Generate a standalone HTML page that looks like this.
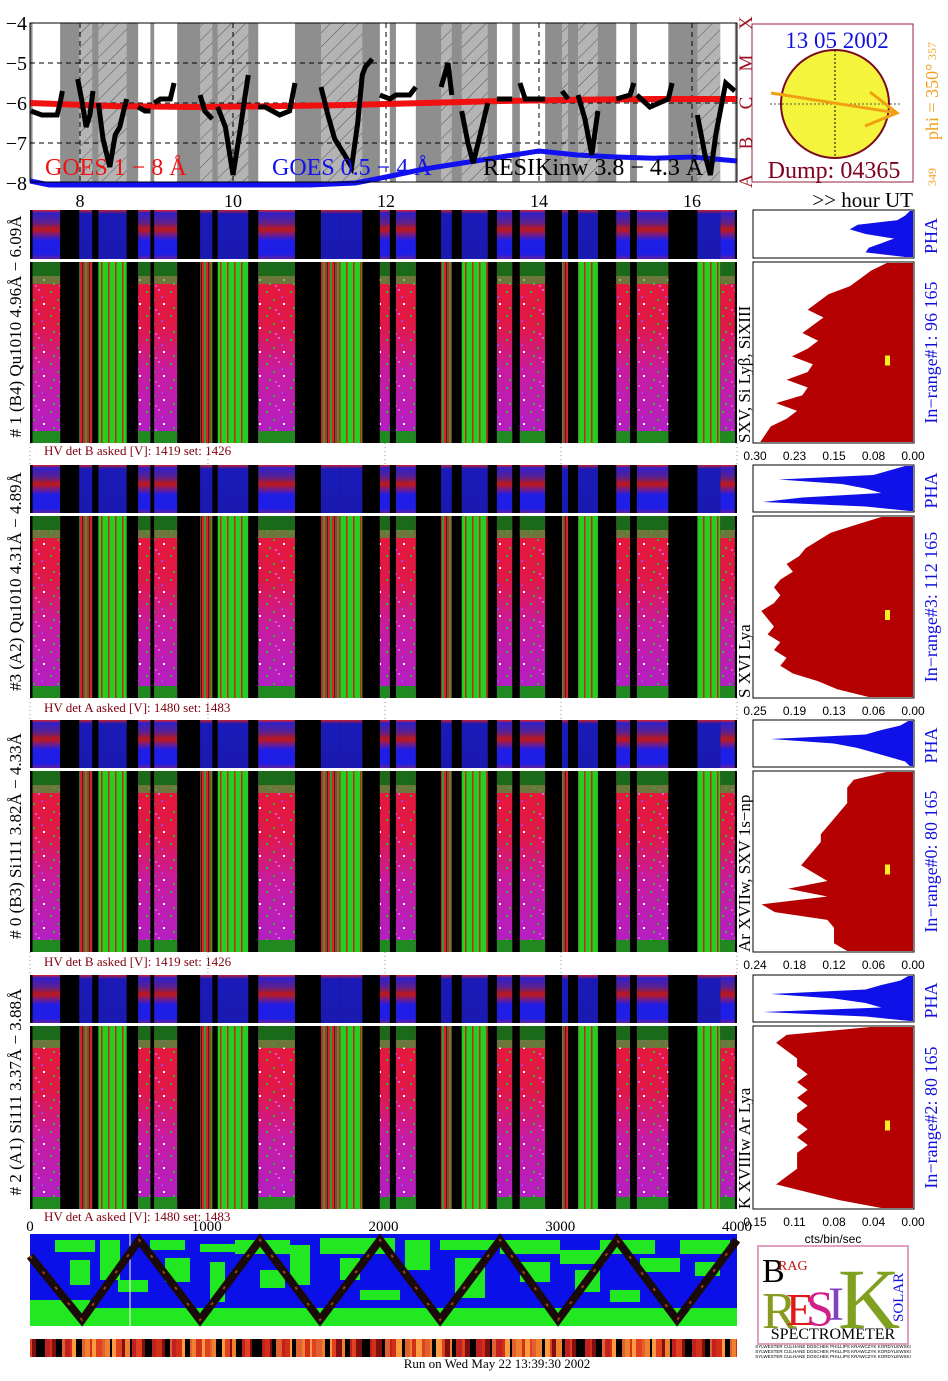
<!DOCTYPE html>
<html><head><meta charset="utf-8">
<style>
html,body{margin:0;padding:0;background:#fff;}
svg{display:block;font-family:"Liberation Serif",serif;}
</style></head>
<body>
<svg id="chart" width="948" height="1381" viewBox="0 0 948 1381" xmlns="http://www.w3.org/2000/svg">
<defs>
<pattern id="hatch" patternUnits="userSpaceOnUse" width="10" height="10" patternTransform="rotate(45)">
<rect width="10" height="10" fill="#b4b4b4"/><line x1="0" y1="0" x2="0" y2="10" stroke="#555" stroke-width="1"/>
</pattern>
<linearGradient id="qgrad" x1="0" y1="0" x2="0" y2="1">
<stop offset="0" stop-color="#e81838"/><stop offset="0.35" stop-color="#e01848"/><stop offset="0.6" stop-color="#c81ca0"/><stop offset="1" stop-color="#b020c8"/>
</linearGradient>
<linearGradient id="phagrad" x1="0" y1="0" x2="0" y2="1">
<stop offset="0" stop-color="#e02020"/><stop offset="0.06" stop-color="#3020c8"/><stop offset="0.25" stop-color="#5a2090"/><stop offset="0.4" stop-color="#c01818"/><stop offset="0.5" stop-color="#7a1c80"/><stop offset="0.62" stop-color="#1e1ee6"/><stop offset="0.9" stop-color="#1e1ee6"/><stop offset="1" stop-color="#6020a0"/>
</linearGradient>
<linearGradient id="phagradA" x1="0" y1="0" x2="0" y2="1">
<stop offset="0" stop-color="#c02030"/><stop offset="0.08" stop-color="#1a1ab8"/><stop offset="1" stop-color="#1a1ab0"/>
</linearGradient>
<pattern id="speck" patternUnits="userSpaceOnUse" width="24" height="24">
<rect x="2" y="3" width="2" height="2" fill="#30c030"/><rect x="14" y="1" width="2" height="2" fill="#e060e0"/><rect x="9" y="11" width="2" height="2" fill="#28b028"/><rect x="19" y="15" width="2" height="2" fill="#fff"/><rect x="5" y="19" width="2" height="2" fill="#30c030"/><rect x="17" y="8" width="2" height="2" fill="#a040f0"/><rect x="11" y="21" width="2" height="2" fill="#e050e0"/>
</pattern>
<pattern id="aline" patternUnits="userSpaceOnUse" width="7" height="10">
<rect width="7" height="10" fill="#22d022"/><rect x="3" width="1.5" height="10" fill="#d02020"/>
</pattern>
<pattern id="mline" patternUnits="userSpaceOnUse" width="7" height="10">
<rect width="7" height="10" fill="#d82030"/><rect x="1" width="2" height="10" fill="#2aa02a"/><rect x="5" width="1" height="10" fill="#104010"/>
</pattern>
</defs>
<g id="goes"></g>
<g id="sun"></g>
<g id="blocks"></g>
<g id="bottom"></g>
</svg>
<script>
// ---------- data ----------
const segStart=[7.38,7.99,8.24,8.76,8.97,9.57,9.80,10.33,11.15,11.40,11.92,12.13,12.72,12.99,13.45,13.75,14.30,14.51,15.01,15.28,16.07,16.37];
const segEnd  =[7.74,8.16,8.61,8.92,9.27,9.73,10.20,10.81,11.40,11.69,12.05,12.39,12.86,13.33,13.65,14.08,14.38,14.77,15.19,15.69,16.37,16.56];
const segType =['q','m','a','q','q','m','a','q','m','a','q','q','m','a','q','q','m','a','q','q','a','q'];
const hourTicks=[8,10,12,14,16];
const goesYTicks=[-4,-5,-6,-7,-8];
const goesLongH=[7.35,8.5,9.5,10.5,11.5,12.5,13.5,14.5,15.5,16.59];
const goesLongV=[-6.0,-6.08,-6.1,-6.08,-6.05,-6.0,-5.95,-5.92,-5.9,-5.9];
const goesShortH=[7.35,7.6,8.0,9.0,10.0,11.0,11.6,12.0,12.5,13.0,13.5,14.0,14.5,15.0,15.5,16.0,16.59];
const goesShortV=[-7.95,-8.05,-8.05,-8.05,-8.05,-8.05,-8.0,-7.85,-7.65,-7.5,-7.35,-7.2,-7.3,-7.35,-7.38,-7.35,-7.45];
const resikH=[[7.36,7.5,7.7,7.74,7.77],[7.97,8.03,8.08,8.13,8.17],[8.24,8.3,8.39,8.46,8.52,8.57,8.61],[8.76,8.85,8.92],[8.97,9.05,9.18,9.23],[9.57,9.63,9.73],[9.80,9.9,10.0,10.1,10.16,10.2],[10.33,10.42,10.61,10.74,10.81],[11.15,11.24,11.33,11.46,11.55,11.63,11.69,11.73,11.82],[11.92,12.05,12.13,12.31,12.39],[12.72,12.81,12.86],[12.99,13.07,13.14,13.23,13.33],[13.45,13.65],[13.75,13.82,14.08],[14.30,14.38],[14.51,14.6,14.69,14.77],[15.01,15.19,15.24],[15.28,15.45,15.69,15.74],[16.07,16.17,16.24,16.31,16.44,16.56]];
const resikV=[[-6.2,-6.3,-6.3,-6.0,-5.7],[-5.4,-6.0,-6.6,-6.3,-5.7],[-6.0,-6.9,-7.6,-6.8,-6.6,-6.2,-5.9],[-6.1,-6.2,-6.2],[-6.0,-5.9,-5.9,-5.5],[-5.8,-6.2,-6.4],[-6.1,-6.6,-7.8,-6.6,-5.8,-5.3],[-6.1,-6.1,-6.3,-6.2,-5.5],[-5.6,-6.3,-6.9,-7.3,-7.6,-6.5,-5.3,-5.1,-4.9],[-5.8,-5.9,-5.8,-5.8,-5.6],[-5.6,-5.0,-5.8],[-6.2,-7.0,-7.5,-6.8,-6.0],[-5.9,-5.9],[-5.5,-5.9,-5.9],[-5.7,-5.9],[-5.8,-6.4,-7.3,-6.2],[-5.9,-5.8,-5.5],[-5.8,-6.1,-5.9,-5.5],[-6.3,-7.3,-7.8,-6.8,-5.5,-5.7]];
const blockLabels=["# 1 (B4) Qu1010 4.96Å − 6.09Å","#3 (A2) Qu1010  4.31Å − 4.89Å","# 0 (B3) Si111  3.82Å − 4.33Å","# 2 (A1) Si111  3.37Å − 3.88Å"];
const lineLabels=["SXV, Si Lyβ, SiXIII","S XVI Lya","Ar XVIIw,  SXV 1s−np","K XVIIIw   Ar Lya"];
const rangeLabels=["In−range#1:   96 165","In−range#3:  112 165","In−range#0:   80 165","In−range#2:   80 165"];
const hvLabels=["HV det B asked [V]:  1419 set:  1426","HV det A asked [V]:  1480 set:  1483","HV det B asked [V]:  1419 set:  1426","HV det A asked [V]:  1480 set:  1483"];
const histMax=[0.30,0.25,0.24,0.15];
const histTicks=[["0.30","0.23","0.15","0.08","0.00"],["0.25","0.19","0.13","0.06","0.00"],["0.24","0.18","0.12","0.06","0.00"],["0.15","0.11","0.08","0.04","0.00"]];
const histB1=[0.05,0.08,0.10,0.12,0.16,0.18,0.20,0.17,0.19,0.21,0.18,0.20,0.23,0.19,0.20,0.24,0.20,0.21,0.26,0.22,0.24,0.27,0.28,0.29];
const histB2=[0.05,0.09,0.13,0.15,0.17,0.18,0.20,0.19,0.21,0.22,0.21,0.22,0.24,0.23,0.22,0.23,0.21,0.22,0.20,0.21,0.19,0.15,0.12,0.07];
const histB3=[0.04,0.09,0.10,0.10,0.10,0.11,0.12,0.13,0.14,0.14,0.15,0.16,0.17,0.15,0.13,0.19,0.13,0.23,0.21,0.13,0.12,0.12,0.12,0.10];
const histB4=[0.04,0.12,0.13,0.12,0.11,0.11,0.10,0.11,0.10,0.11,0.10,0.11,0.11,0.10,0.11,0.10,0.11,0.11,0.11,0.12,0.13,0.10,0.07,0.03];
const phaB1=[0.02,0.05,0.10,0.35,0.40,0.30,0.12,0.20,0.28,0.30,0.05];
const phaB2=[0.05,0.15,0.25,0.85,0.45,0.30,0.20,0.70,0.95,0.30,0.02];
const phaB3=[0.03,0.08,0.20,0.30,0.90,0.50,0.35,0.25,0.15,0.05,0.02];
const phaB4=[0.03,0.08,0.20,0.30,0.90,0.50,0.30,0.20,0.95,0.30,0.02];
const bottomTicks=[0,1000,2000,3000,4000];
const zigCh=[0,294,617,962,1301,1641,1980,2320,2659,2987,3321,3661,4000];
const zigPos=[0.8,0,1,0,1,0,1,0,1,0,1,0,1];

// ---------- helpers ----------
const NS="http://www.w3.org/2000/svg";
function mk(tag,attrs,parent,text){const e=document.createElementNS(NS,tag);for(const k in attrs)e.setAttribute(k,attrs[k]);if(text!==undefined)e.textContent=text;parent.appendChild(e);return e;}
const X=h=>80+(h-8)*76.5;
const GY=v=>23+(-4-v)*40;
const L=30,R=737;

// ---------- GOES ----------
const g=document.getElementById('goes');
let bg=mk('rect',{x:L,y:23,width:R-L,height:159,fill:'#8e8e8e'},g);


segStart.forEach((s,i)=>{
  const r=mk('rect',{x:X(s),y:23,width:X(segEnd[i])-X(s),height:159,fill:segType[i]==='q'?'#fff':'url(#hatch)'},g);
  
  
});
goesYTicks.forEach(v=>{
  if(v>-8&&v<-4){const ln=mk('line',{x1:L,x2:R,y1:GY(v),y2:GY(v),stroke:'#000','stroke-dasharray':'5,4','stroke-width':1},g);
  
  }
  const t=mk('text',{x:27,y:GY(v)+7,'font-size':20,'text-anchor':'end'},g,'−'+Math.abs(v));
  
  
});
hourTicks.forEach(h=>{
  const ln=mk('line',{x1:X(h),x2:X(h),y1:23,y2:182,stroke:'#000','stroke-dasharray':'5,4'},g);
  
  
  const t=mk('text',{x:X(h),y:207,'font-size':18,'text-anchor':'middle'},g,String(h));
  
  
});
let hu=mk('text',{x:913,y:207,'font-size':21,'text-anchor':'end'},g,'>> hour UT');


function poly(hs,vs){return hs.map((h,i)=>X(h).toFixed(1)+','+GY(vs[i]).toFixed(1)).join(' ');}
let gl=mk('polyline',{points:poly(goesLongH,goesLongV),fill:'none',stroke:'#f01010','stroke-width':6},g);


let gs=mk('polyline',{points:poly(goesShortH,goesShortV),fill:'none',stroke:'#1010f0','stroke-width':5},g);


resikH.forEach((hs,i)=>{
  const p=mk('polyline',{points:poly(hs,resikV[i]),fill:'none',stroke:'#000','stroke-width':5,'stroke-linejoin':'miter'},g);
  
  
});
let fr=mk('rect',{x:L,y:23,width:R-L,height:159,fill:'none',stroke:'#000'},g);


[['GOES 1 − 8 Å',45,'#f01010'],['GOES 0.5 − 4 Å',272,'#1010f0'],['RESIKinw 3.8 − 4.3 Å',483,'#000']].forEach(([s,x,c])=>{
  const t=mk('text',{x:x,y:175,'font-size':24,fill:c},g,s);
  
  
});
['A','B','C','M','X'].forEach((s,i)=>{
  const y=[181,143,103,63,23][i];
  const t=mk('text',{x:0,y:0,'font-size':19,fill:'#a01020','text-anchor':'middle',transform:`translate(752,${y}) rotate(-90)`},g,s);
  
  
});

// ---------- Sun ----------
const s=document.getElementById('sun');
let sb=mk('rect',{x:752,y:24,width:161,height:158,fill:'#fff',stroke:'#902040'},s);


let sd=mk('circle',{cx:835,cy:104,r:54,fill:'#f4f43c',stroke:'#7a0a20','stroke-width':2},s);


mk('line',{x1:835,x2:835,y1:50,y2:158,stroke:'#000','stroke-dasharray':'2,2'},s);
mk('line',{x1:770,x2:900,y1:104,y2:104,stroke:'#555','stroke-dasharray':'2,2'},s);
let ar=mk('path',{d:'M771,93 L897,113 M870,92 L897,113 L865,126',fill:'none',stroke:'#f0a010','stroke-width':3},s);


let dt=mk('text',{x:837,y:48,'font-size':23,fill:'#1010e0','text-anchor':'middle'},s,'13 05 2002');


let dp=mk('text',{x:834,y:178,'font-size':24,fill:'#800020','text-anchor':'middle'},s,'Dump: 04365');


let ph=mk('text',{x:0,y:0,'font-size':18,fill:'#f0a020',transform:'translate(938,140) rotate(-90)'},s,'phi = 350°');


mk('text',{x:0,y:0,'font-size':12,fill:'#f0a020',transform:'translate(936,60) rotate(-90)'},s,'357');
mk('text',{x:0,y:0,'font-size':12,fill:'#f0a020',transform:'translate(936,186) rotate(-90)'},s,'349');

// ---------- blocks ----------
const B=document.getElementById('blocks');
const blocks=[{s:210,m:262,e:443,hv:455},{s:465,m:516,e:698,hv:712},{s:720,m:771,e:952,hv:966},{s:975,m:1026,e:1209,hv:1221}];
const hists=[histB1,histB2,histB3,histB4];
const phas=[phaB1,phaB2,phaB3,phaB4];
blocks.forEach((b,bi)=>{
  const grp=mk('g',{},B);
  
  
  mk('rect',{x:L,y:b.s,width:R-L,height:b.m-b.s-3,fill:'#000'},grp);
  mk('rect',{x:L,y:b.m,width:R-L,height:b.e-b.m,fill:'#000'},grp);
  mk('line',{x1:L,x2:R,y1:b.m-1.5,y2:b.m-1.5,stroke:'#fff','stroke-width':1.5},grp);
  segStart.forEach((st,i)=>{
    const x=X(st),w=X(segEnd[i])-x,t=segType[i];
    const pr=mk('rect',{x:x,y:b.s,width:w,height:b.m-b.s-3,fill:t==='q'?'url(#phagrad)':'url(#phagradA)'},grp);
    
    
    const h=b.e-b.m;
    if(t==='q'){
      const r=mk('rect',{x:x,y:b.m,width:w,height:h,fill:'url(#qgrad)'},grp);
      
      
      mk('rect',{x:x,y:b.m,width:w,height:h,fill:'url(#speck)'},grp);
      mk('rect',{x:x,y:b.m,width:w,height:14,fill:'#1a6a1a'},grp);
      mk('rect',{x:x,y:b.m+14,width:w,height:8,fill:'#3aa03a',opacity:0.7},grp);
      mk('rect',{x:x,y:b.e-12,width:w,height:12,fill:'#208a20'},grp);
    }else{
      const r=mk('rect',{x:x,y:b.m,width:w,height:h,fill:t==='a'?'url(#aline)':'url(#mline)'},grp);
      
      
    }
  });
  const lt=mk('text',{x:0,y:0,'font-size':17,'text-anchor':'middle',transform:`translate(21,${(b.s+b.e)/2}) rotate(-90)`},grp,blockLabels[bi]);
  
  
  const hv=mk('text',{x:44,y:b.hv,'font-size':13,fill:'#800010'},grp,hvLabels[bi]);
  
  
  [30,208,385,561,737].forEach(x=>mk('line',{x1:x,x2:x,y1:b.e,y2:b.e+(bi<3?22:0),stroke:'#999','stroke-dasharray':'1,3'},grp));
  const px0=755,px1=913;
  mk('rect',{x:753,y:b.s,width:161,height:b.m-b.s-4,fill:'#fff',stroke:'#000'},grp);
  const pv=phas[bi],ph=b.m-b.s-6;
  let pp=`${px1},${b.s+1} `;
  pv.forEach((v,i)=>{pp+=`${(px1-v*(px1-px0)).toFixed(1)},${(b.s+1+i*ph/(pv.length-1)).toFixed(1)} `;});
  pp+=`${px1},${b.s+1+ph}`;
  const pa=mk('polygon',{points:pp,fill:'#1010e8'},grp);
  
  
  mk('rect',{x:753,y:b.m,width:161,height:b.e-b.m,fill:'#fff',stroke:'#000'},grp);
  const hv2=hists[bi],hh=b.e-b.m-2,step=hh/(hv2.length-1);
  let hp=`${px1},${b.m+1} `;
  hv2.forEach((v,i)=>{const x=(px1-v/histMax[bi]*(px1-px0)).toFixed(1);hp+=`${x},${(b.m+1+i*step).toFixed(1)} `;});
  hp+=`${px1},${b.e-1}`;
  const ha=mk('polygon',{points:hp,fill:'#b40000'},grp);
  
  
  mk('rect',{x:885,y:(b.m+b.e)/2+3,width:5,height:10,fill:'#f4f020'},grp);
  histTicks[bi].forEach((t,i)=>{
    const tt=mk('text',{x:755+i*39.5,y:b.e+17,'font-size':12,'text-anchor':'middle','font-family':'Liberation Sans, sans-serif'},grp,t);
    
    
  });
  const ll=mk('text',{x:0,y:0,'font-size':17,'text-anchor':'start',transform:`translate(750,${b.e}) rotate(-90)`},grp,lineLabels[bi]);
  
  
  const pl=mk('text',{x:0,y:0,'font-size':18,fill:'#1010e0','text-anchor':'middle',transform:`translate(937,${(b.s+b.m)/2}) rotate(-90)`},grp,'PHA');
  
  
  const rl=mk('text',{x:0,y:0,'font-size':18,fill:'#1010e0','text-anchor':'middle',transform:`translate(937,${(b.m+b.e)/2}) rotate(-90)`},grp,rangeLabels[bi]);
  
  
});
let cb=mk('text',{x:833,y:1243,'font-size':12,'text-anchor':'middle','font-family':'Liberation Sans, sans-serif'},B,'cts/bin/sec');



// ---------- bottom ----------
const bt=document.getElementById('bottom');
const CX=c=>30+c/4000*707;
bottomTicks.forEach(c=>{
  const t=mk('text',{x:CX(c),y:1231,'font-size':15,'text-anchor':'middle'},bt,String(c));
  
  
});
let bp=mk('rect',{x:30,y:1234,width:707,height:92,fill:'#0c10e8'},bt);


mk('rect',{x:30,y:1308,width:707,height:18,fill:'#22e822'},bt);
[[30,1300,60,8],[55,1240,40,12],[70,1260,20,25],[100,1240,20,40],[118,1280,30,12],[150,1240,35,10],[165,1258,25,24],[200,1244,40,8],[210,1262,15,40],[235,1240,55,14],[260,1270,25,18],[290,1245,20,40],[320,1238,75,16],[340,1258,20,22],[360,1290,40,10],[405,1240,25,30],[440,1240,55,10],[455,1258,30,40],[500,1240,60,14],[520,1262,30,20],[560,1250,45,14],[575,1270,25,22],[600,1240,55,14],[640,1258,40,14],[680,1240,50,14],[695,1262,25,14],[610,1290,30,12]].forEach(r=>mk('rect',{x:r[0],y:r[1],width:r[2],height:r[3],fill:'#22e822'},bt));
mk('line',{x1:130,x2:130,y1:1234,y2:1326,stroke:'#fff'},bt);
let zp=zigCh.map((c,i)=>CX(c).toFixed(1)+','+(1320-zigPos[i]*80).toFixed(1)).join(' ');
let zz=mk('polyline',{points:zp,fill:'none',stroke:'#1a0a08','stroke-width':8},bt);


mk('polyline',{points:zp,fill:'none',stroke:'#c05020','stroke-width':2,'stroke-dasharray':'3,17',opacity:0.8},bt);
const cbar=mk('g',{},bt);


const cols=['#e04020','#000','#f08030','#c02020','#ff9a40','#801010','#e06030','#000','#d03018'];
let x=30,k=0;
while(x<737){const w=2+((k*7)%5);mk('rect',{x:x,y:1339,width:Math.min(w,737-x),height:18,fill:cols[(k*5+Math.floor(k/3))%cols.length]},cbar);x+=w;k++;}
let rn=mk('text',{x:497,y:1368,'font-size':13,'text-anchor':'middle'},bt,'Run on Wed May 22 13:39:30 2002');


const lg=mk('g',{},bt);


mk('rect',{x:758,y:1246,width:150,height:98,fill:'#fff',stroke:'#e0a0c0','stroke-width':2},lg);
mk('text',{x:762,y:1282,'font-size':34,fill:'#000'},lg,'B');
mk('text',{x:778,y:1270,'font-size':14,fill:'#c01010'},lg,'RAG');
mk('text',{x:762,y:1328,'font-size':52,fill:'#8a9a20'},lg,'R');
mk('text',{x:786,y:1325,'font-size':46,fill:'#e01818'},lg,'E');
mk('text',{x:806,y:1325,'font-size':50,fill:'#d0208a'},lg,'S');
mk('text',{x:828,y:1320,'font-size':48,fill:'#8040c0'},lg,'I');
mk('text',{x:838,y:1328,'font-size':86,fill:'#80a020'},lg,'K');
mk('text',{x:0,y:0,'font-size':15,fill:'#1010e0',transform:'translate(903,1322) rotate(-90)'},lg,'SOLAR');
let sp=mk('text',{x:833,y:1339,'font-size':16,'text-anchor':'middle'},lg,'SPECTROMETER');


[1348,1353,1358].forEach(y=>mk('text',{x:833,y:y,'font-size':4.5,'text-anchor':'middle','font-family':'Liberation Sans, sans-serif'},lg,'SYLWESTER CULHANE DOSCHEK PHILLIPS KRAWCZYK KORDYLEWSKI'));
</script>
</body></html>
